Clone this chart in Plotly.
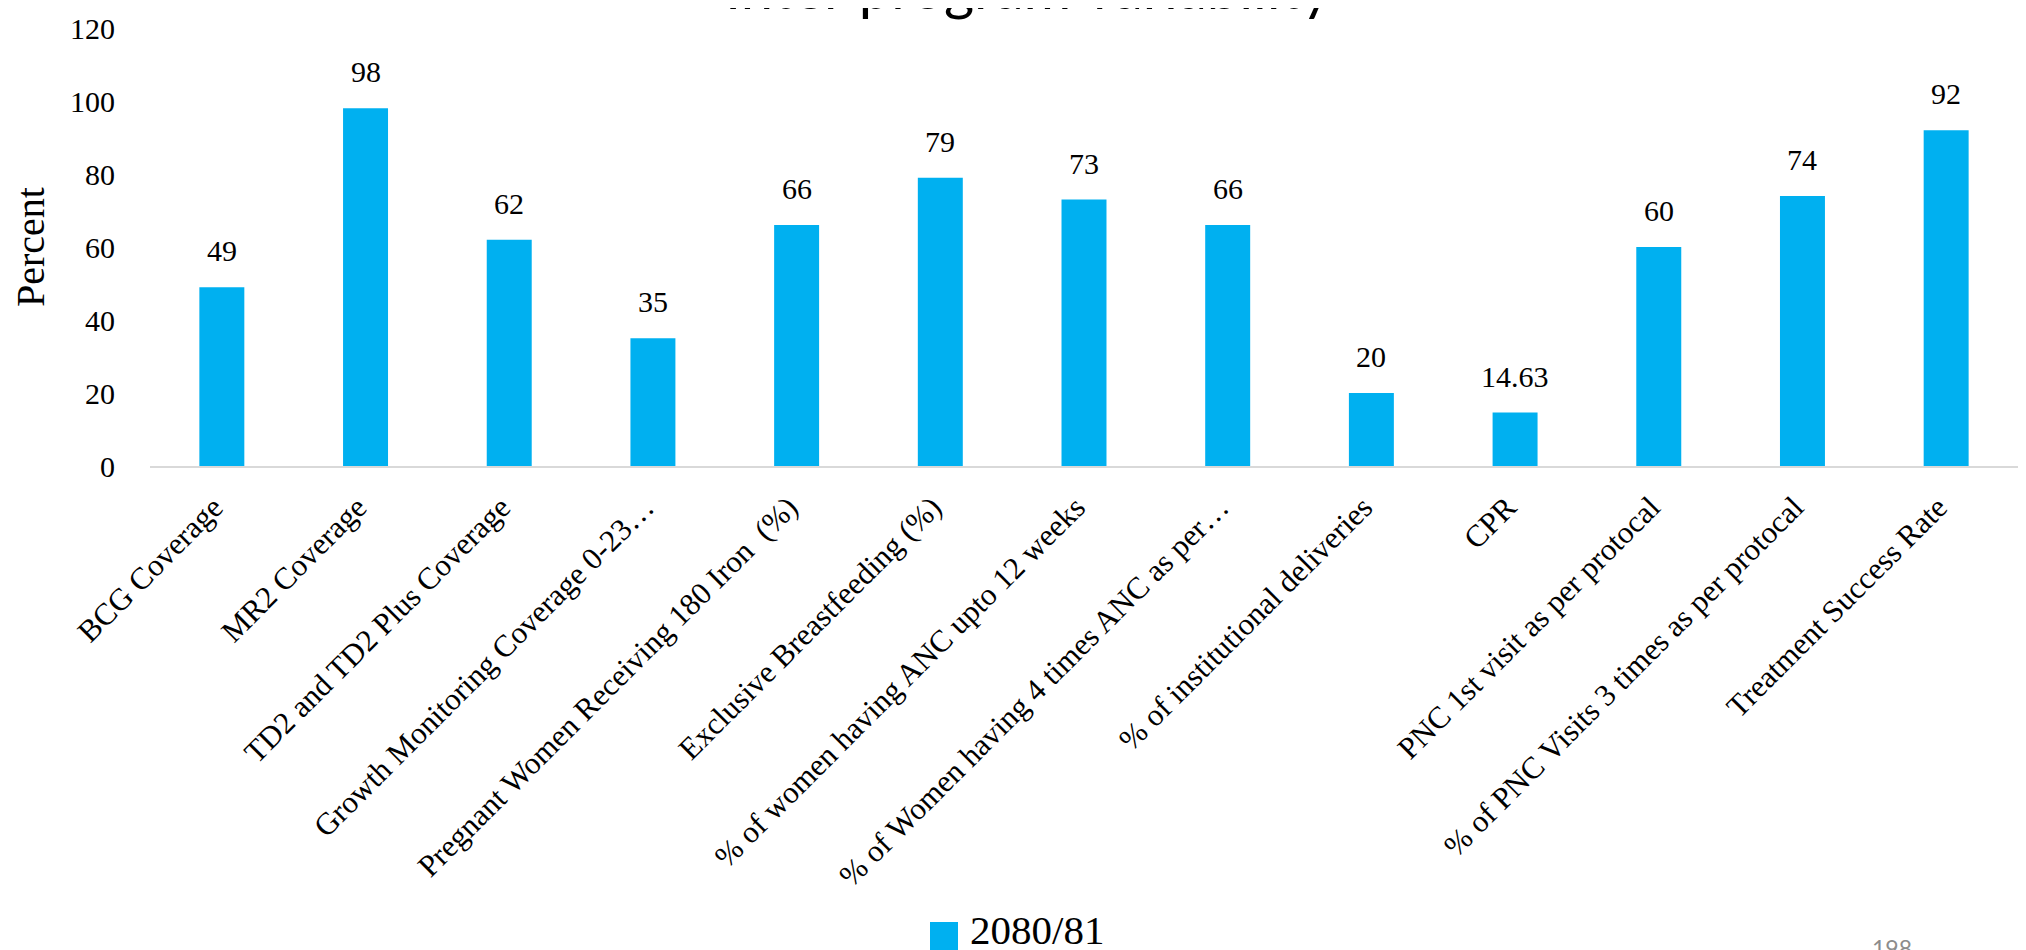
import plotly.graph_objects as go

# ---------------- data ----------------
categories = [
    "BCG Coverage",
    "MR2 Coverage",
    "TD2 and TD2 Plus Coverage",
    "Growth Monitoring Coverage 0-23…",
    "Pregnant Women Receiving 180 Iron  (%)",
    "Exclusive Breastfeeding (%)",
    "% of women having ANC upto 12 weeks",
    "% of Women having 4 times ANC as per…",
    "% of institutional deliveries",
    "CPR",
    "PNC 1st visit as per protocal",
    "% of PNC Visits 3 times as per protocal",
    "Treatment Success Rate",
]
values_2080_81 = [49, 98, 62, 35, 66, 79, 73, 66, 20, 14.63, 60, 74, 92]
value_labels = ["49", "98", "62", "35", "66", "79", "73", "66", "20", "14.63", "60", "74", "92"]
y_tick_values = [0, 20, 40, 60, 80, 100, 120]
series_name = "2080/81"
chart_title = "Inter program variability"
y_axis_title = "Percent"
page_number = "198"

# ---------------- style ----------------
W, H = 2026, 950
OFF = 8  # default page body margin shifts the figure by 8px
# plot area in page pixels
PX_LEFT, PX_RIGHT, PX_TOP, PX_BOTTOM = 150, 2018, 28, 466
L = PX_LEFT - OFF
R = W - (PX_RIGHT - OFF)
T = PX_TOP - OFF
B = H - (PX_BOTTOM - OFF)
plot_w = PX_RIGHT - PX_LEFT
plot_h = PX_BOTTOM - PX_TOP
BAR_COLOR = "#00B0F0"
SERIF = "Liberation Serif, Times New Roman, serif"
SANS = "Lato, Open Sans, sans-serif"


def px_to_paper_x(px):
    return (px - PX_LEFT) / plot_w


def px_to_paper_y(py):
    return (PX_BOTTOM - py) / plot_h


fig = go.Figure()
fig.add_trace(
    go.Bar(
        x=categories,
        y=values_2080_81,
        name=series_name,
        marker=dict(color=BAR_COLOR, line=dict(width=0)),
        width=0.313,
        showlegend=False,
        hoverinfo="x+y",
    )
)

annotations = []
# data labels above the bars
for cat, val, lab in zip(categories, values_2080_81, value_labels):
    annotations.append(
        dict(
            x=cat, y=val, xref="x", yref="y", text=lab, showarrow=False,
            yanchor="bottom", yshift=18,
            font=dict(family=SERIF, size=30, color="#000000"),
        )
    )

# title (cut off at the top edge, like the reference)
annotations.append(
    dict(
        x=px_to_paper_x(1028), y=px_to_paper_y(-13), xref="paper", yref="paper",
        text=chart_title, showarrow=False, xanchor="center", yanchor="middle",
        font=dict(family=SANS, size=58, color="#000000"),
    )
)

# legend text
annotations.append(
    dict(
        x=px_to_paper_x(968), y=px_to_paper_y(930), xref="paper", yref="paper",
        text=series_name, showarrow=False, xanchor="left", yanchor="middle",
        font=dict(family=SERIF, size=41, color="#000000"),
    )
)

# page number
annotations.append(
    dict(
        x=px_to_paper_x(1892), y=px_to_paper_y(932), xref="paper", yref="paper",
        text=page_number, showarrow=False, xanchor="center", yanchor="top",
        font=dict(family=SANS, size=23, color="#8c8c8c"),
    )
)

shapes = [
    dict(
        type="rect", xref="paper", yref="paper",
        x0=px_to_paper_x(930), x1=px_to_paper_x(958),
        y0=px_to_paper_y(952), y1=px_to_paper_y(922),
        fillcolor=BAR_COLOR, line=dict(width=0),
    )
]

fig.update_layout(
    width=W,
    height=H,
    margin=dict(l=L, r=R, t=T, b=B, autoexpand=False),
    paper_bgcolor="#ffffff",
    plot_bgcolor="#ffffff",
    font=dict(family=SERIF, color="#000000"),
    showlegend=False,
    annotations=annotations,
    shapes=shapes,
    xaxis=dict(
        type="category",
        range=[-0.5, len(categories) - 0.5],
        tickangle=-45,
        tickfont=dict(family=SERIF, size=31, color="#000000"),
        showline=True,
        linecolor="#d9d9d9",
        linewidth=1.5,
        showgrid=False,
        zeroline=False,
        ticks="outside",
        ticklen=9,
        tickcolor="rgba(0,0,0,0)",
        ticklabelshift=-8,
        automargin=False,
    ),
    yaxis=dict(
        range=[0, 120],
        tickvals=y_tick_values,
        tickfont=dict(family=SERIF, size=30, color="#000000"),
        showline=False,
        showgrid=False,
        zeroline=False,
        ticks="outside",
        ticklen=28,
        tickcolor="rgba(0,0,0,0)",
        title=dict(text=y_axis_title, font=dict(family=SERIF, size=40, color="#000000"), standoff=24),
        automargin=False,
    ),
)

fig.write_html("out.html")
